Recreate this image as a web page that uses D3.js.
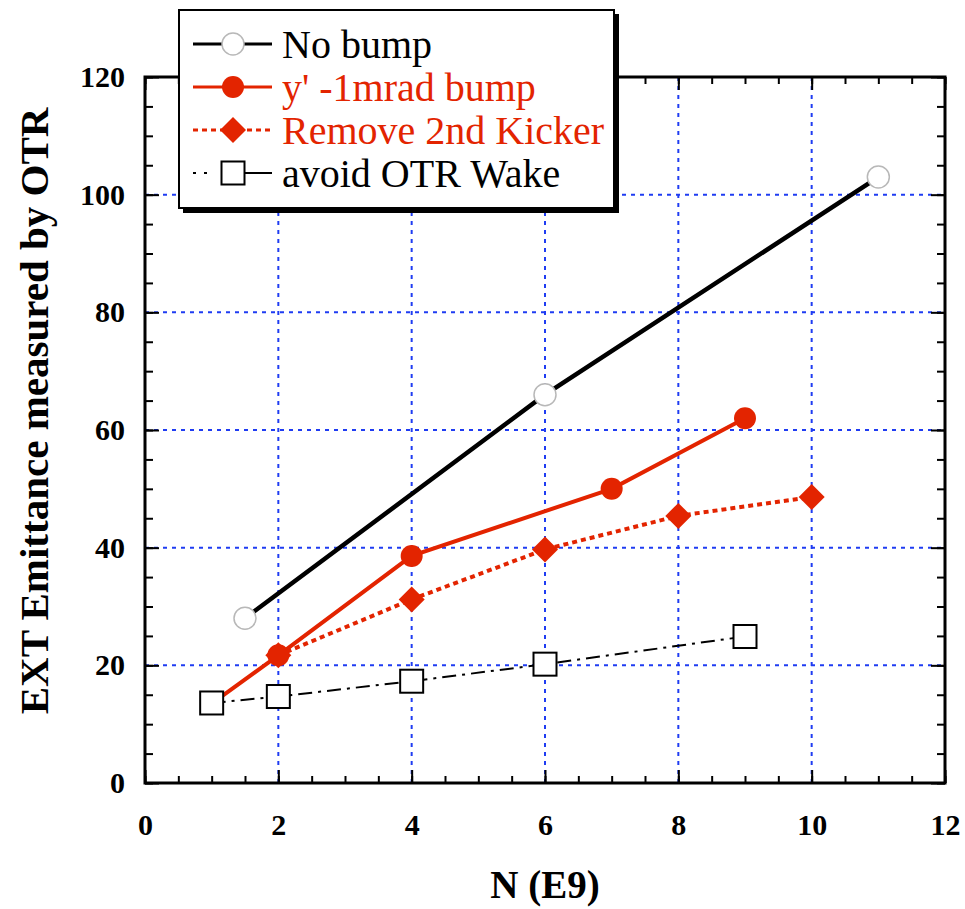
<!DOCTYPE html>
<html><head><meta charset="utf-8">
<script src="https://cdn.jsdelivr.net/npm/d3@7"></script>
<style>body{margin:0;background:#fff}svg{display:block}
text{font-family:"Liberation Serif","Times New Roman",Tinos,"DejaVu Serif",serif}</style>
</head><body>
<svg id="c" width="965" height="909"></svg>
<script>
// ---- data ----
const xTicks = [0, 2, 4, 6, 8, 10, 12];
const yTicks = [0, 20, 40, 60, 80, 100, 120];
const seriesNames = ["No bump", "y' -1mrad bump", "Remove 2nd Kicker", "avoid OTR Wake"];
const noBumpX = [1.5, 6, 11];
const noBumpY = [28, 66, 103];
const bumpX = [1, 2, 4, 7, 9];
const bumpY = [13.5, 21.7, 38.6, 50, 62];
const kickerX = [2, 4, 6, 8, 10];
const kickerY = [21.7, 31.2, 39.7, 45.4, 48.6];
const wakeX = [1, 2, 4, 6, 9];
const wakeY = [13.6, 14.7, 17.3, 20.2, 24.9];

const RED = "#e32400", BLUE = "#1f3cf2";
const svg = d3.select("#c");
const L = 145, R = 945, T = 77, B = 783;
const x = d3.scaleLinear().domain([0, 12]).range([L, R]);
const y = d3.scaleLinear().domain([0, 120]).range([B, T]);

// grid
const g = svg.append("g");
g.selectAll("line.gx").data(xTicks.slice(1, -1)).join("line")
  .attr("x1", d => x(d)).attr("x2", d => x(d)).attr("y1", T).attr("y2", B)
  .attr("stroke", BLUE).attr("stroke-width", 2).attr("stroke-dasharray", "4,5");
g.selectAll("line.gy").data(yTicks.slice(1, -1)).join("line")
  .attr("y1", d => y(d)).attr("y2", d => y(d)).attr("x1", L).attr("x2", R)
  .attr("stroke", BLUE).attr("stroke-width", 2).attr("stroke-dasharray", "4,5");

// axes
function styleAxis(sel) {
  sel.select(".domain").remove();
  sel.selectAll("line").attr("stroke", "#000").attr("stroke-width", 2);
  sel.attr("font-family", null);
  sel.selectAll("text").style("font-weight", "bold")
    .style("font-size", "30px").attr("fill", "#000");
}
const minorX = d3.range(0, 12.01, 0.5);
const minorY = d3.range(0, 120.01, 5);
svg.append("g").attr("transform", `translate(0,${B})`)
  .call(d3.axisBottom(x).tickValues(minorX).tickSize(-7).tickFormat("")).call(styleAxis);
svg.append("g").attr("transform", `translate(0,${B})`)
  .call(d3.axisBottom(x).tickValues(xTicks).tickSize(-13).tickPadding(31).tickFormat(d3.format("d"))).call(styleAxis);
svg.append("g").attr("transform", `translate(0,${T})`)
  .call(d3.axisTop(x).tickValues(minorX).tickSize(-7).tickFormat("")).call(styleAxis);
svg.append("g").attr("transform", `translate(0,${T})`)
  .call(d3.axisTop(x).tickValues(xTicks).tickSize(-13).tickFormat("")).call(styleAxis);
svg.append("g").attr("transform", `translate(${L},0)`)
  .call(d3.axisLeft(y).tickValues(minorY).tickSize(-8).tickFormat("")).call(styleAxis);
svg.append("g").attr("transform", `translate(${L},0)`)
  .call(d3.axisLeft(y).tickValues(yTicks).tickSize(-14).tickPadding(20).tickFormat(d3.format("d"))).call(styleAxis);
svg.append("g").attr("transform", `translate(${R},0)`)
  .call(d3.axisRight(y).tickValues(minorY).tickSize(-8).tickFormat("")).call(styleAxis);
svg.append("g").attr("transform", `translate(${R},0)`)
  .call(d3.axisRight(y).tickValues(yTicks).tickSize(-14).tickFormat("")).call(styleAxis);

svg.append("rect").attr("x", L).attr("y", T).attr("width", R - L).attr("height", B - T)
  .attr("fill", "none").attr("stroke", "#000").attr("stroke-width", 3);

// axis titles
svg.append("text").attr("x", 545).attr("y", 898).attr("text-anchor", "middle")
  .style("font-weight", "bold").style("font-size", "39px").text("N (E9)");
svg.append("text").attr("transform", "translate(48,411) rotate(-90)").attr("text-anchor", "middle")
  .style("font-weight", "bold").style("font-size", "41px")
  .text("EXT Emittance measured by OTR");

// series lines
const line = d3.line().x(d => x(d[0])).y(d => y(d[1]));
const zip = (a, b) => a.map((v, i) => [v, b[i]]);
const styles = [
  {data: zip(noBumpX, noBumpY), color: "#000", w: 4.5, dash: null},
  {data: zip(bumpX, bumpY), color: RED, w: 4, dash: null},
  {data: zip(kickerX, kickerY), color: RED, w: 4, dash: "5,4"},
  {data: zip(wakeX, wakeY), color: "#000", w: 2, dash: "14,6,3,6"}
];
styles.forEach(s => {
  svg.append("path").attr("d", line(s.data)).attr("fill", "none")
    .attr("stroke", s.color).attr("stroke-width", s.w).attr("stroke-dasharray", s.dash);
});

// markers
function marker(sel, k, cx, cy) {
  if (k === 0) sel.append("circle").attr("cx", cx).attr("cy", cy).attr("r", 11)
    .attr("fill", "#fff").attr("stroke", "#b8b8b8").attr("stroke-width", 1.5);
  else if (k === 1) sel.append("circle").attr("cx", cx).attr("cy", cy).attr("r", 11).attr("fill", RED);
  else if (k === 2) sel.append("path").attr("d", `M${cx},${cy-13}L${cx+13},${cy}L${cx},${cy+13}L${cx-13},${cy}Z`).attr("fill", RED);
  else sel.append("rect").attr("x", cx - 11.5).attr("y", cy - 11.5).attr("width", 23).attr("height", 23)
    .attr("fill", "#fff").attr("stroke", "#000").attr("stroke-width", 2);
}
styles.forEach((s, k) => s.data.forEach(d => marker(svg, k, x(d[0]), y(d[1]))));

// legend
const lg = svg.append("g");
lg.append("rect").attr("x", 183).attr("y", 14).attr("width", 436).attr("height", 199).attr("fill", "#000");
lg.append("rect").attr("x", 179).attr("y", 10).attr("width", 435).attr("height", 198)
  .attr("fill", "#fff").attr("stroke", "#000").attr("stroke-width", 2);
const lgY = [44, 87, 130, 173];
const txtColors = ["#000", RED, RED, "#000"];
seriesNames.forEach((n, k) => {
  const s = styles[k], yy = lgY[k];
  lg.append("line").attr("x1", 193).attr("x2", 272).attr("y1", yy).attr("y2", yy)
    .attr("stroke", s.color).attr("stroke-width", s.w >= 4 ? 3 : 2)
    .attr("stroke-dasharray", k === 2 ? "5,4" : (k === 3 ? "3,8,3,8,0,22,40" : null));
  marker(lg, k, 233, yy);
  lg.append("text").attr("x", 282).attr("y", yy + 14)
    .style("font-size", "40px").attr("fill", txtColors[k]).text(n);
});
</script>
</body></html>
